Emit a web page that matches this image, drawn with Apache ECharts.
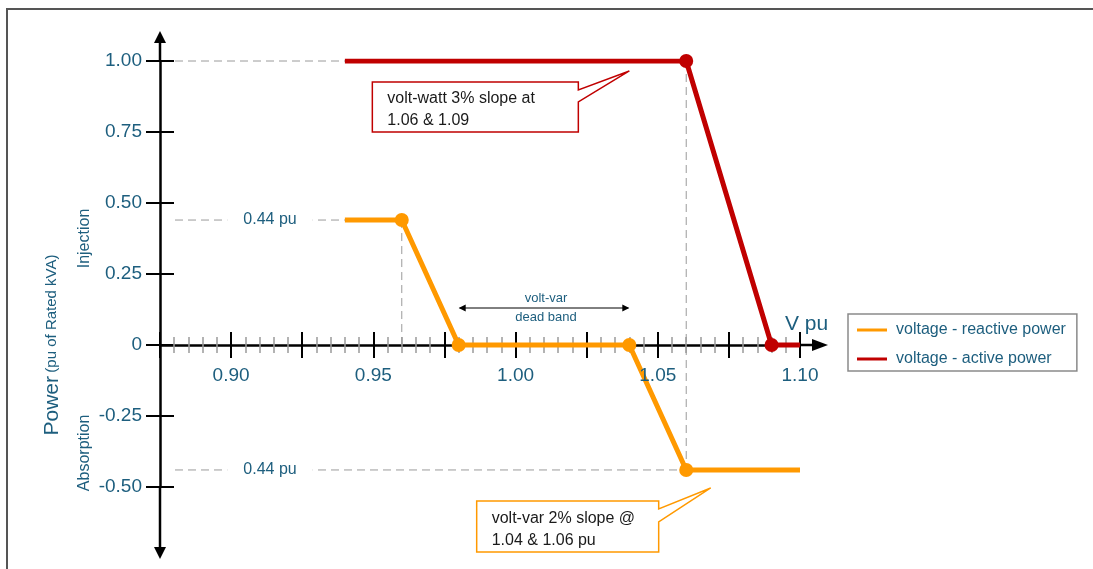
<!DOCTYPE html>
<html>
<head>
<meta charset="utf-8">
<title>Volt-var and volt-watt curves</title>
<script src="https://cdn.jsdelivr.net/npm/echarts@6/dist/echarts.min.js"></script>
<style>
  html, body { margin: 0; padding: 0; background: #ffffff; }
  #chart { width: 1093px; height: 569px; }
</style>
</head>
<body>
<div id="chart"></div>
<script>
// Curve break points (voltage in pu, power in pu of rated kVA)
const seriesNames = ['voltage - reactive power', 'voltage - active power'];
const reactiveVoltage = [0.94, 0.96, 0.98, 1.04, 1.06, 1.10];
const reactivePower = [0.44, 0.44, 0, 0, -0.44, -0.44];
const reactiveMarked = [false, true, true, true, true, false];
const activeVoltage = [0.94, 1.06, 1.09, 1.10];
const activePower = [1.0, 1.0, 0, 0];
const activeMarked = [false, true, true, false];

// Tick labels
const voltageLabels = ['0.90', '0.95', '1.00', '1.05', '1.10'];
const powerLabels = ['-0.50', '-0.25', '0', '0.25', '0.50', '0.75', '1.00'];

// Axis ranges
const vMin = 0.875, vMax = 1.10, vStep = 0.025;
const pMin = -0.5, pMax = 1.0, pStep = 0.25;

// Reference level shown beside the guide lines
const qLimit = 0.44;

const FONT = "'Liberation Sans', Arial, sans-serif";
const TEAL = '#1d5e7e';
const ORANGE = '#ff9900';
const RED = '#c00000';
const GUIDE = { stroke: '#9a9a9a', lineWidth: 1, lineDash: [8, 5] };

const chart = echarts.init(document.getElementById('chart'), null, { renderer: 'canvas' });

function powerLabel(v) {
  const hit = powerLabels.find(l => Math.abs(parseFloat(l) - v) < 1e-9);
  return hit === undefined ? '' : hit;
}

// Two copies of each axis: one draws ticks outward, the other inward, so ticks cross the line
function xAxisDef(inside, withLine) {
  return {
    type: 'value', min: vMin, max: vMax, interval: vStep, position: 'bottom',
    axisLine: { show: withLine, onZero: true, lineStyle: { color: '#000', width: 2.5 } },
    axisTick: { show: true, inside: inside, length: 13, lineStyle: { color: '#000', width: 2 } },
    minorTick: { show: true, splitNumber: 5, length: 8, lineStyle: { color: '#9a9a9a', width: 1.5 } },
    axisLabel: { show: false },
    splitLine: { show: false }
  };
}
function yAxisDef(inside, withLabels) {
  return {
    type: 'value', min: pMin, max: pMax, interval: pStep, position: 'left',
    axisLine: { show: withLabels, onZero: false, lineStyle: { color: '#000', width: 2.5 } },
    axisTick: { show: true, inside: inside, length: 14, lineStyle: { color: '#000', width: 2 } },
    axisLabel: { show: withLabels, formatter: powerLabel, margin: 18, color: TEAL, fontSize: 19, fontFamily: FONT },
    splitLine: { show: false }
  };
}

function curve(name, xs, ys, marked, color) {
  return {
    type: 'line', name: name, z: 5,
    data: xs.map((x, i) => ({ value: [x, ys[i]], symbol: marked[i] ? 'circle' : 'none' })),
    symbol: 'circle', symbolSize: 14,
    lineStyle: { color: color, width: 5 },
    itemStyle: { color: color },
    emphasis: { disabled: true }
  };
}

chart.setOption({
  animation: false,
  textStyle: { fontFamily: FONT },
  grid: { left: 160, top: 61, width: 640, height: 426, containLabel: false },
  xAxis: [xAxisDef(false, true), xAxisDef(true, false)],
  yAxis: [yAxisDef(false, true), yAxisDef(true, false)],
  legend: {
    orient: 'vertical', left: 848, top: 314,
    padding: [8, 11, 4, 9], itemGap: 13,
    itemWidth: 30, itemHeight: 3, icon: 'rect',
    borderColor: '#8a8a8a', borderWidth: 1.5,
    textStyle: { color: TEAL, fontSize: 16, fontFamily: FONT, padding: [0, 0, 0, 4] },
    data: seriesNames
  },
  series: [
    curve(seriesNames[0], reactiveVoltage, reactivePower, reactiveMarked, ORANGE),
    curve(seriesNames[1], activeVoltage, activePower, activeMarked, RED)
  ]
});

// Decorations placed through the grid's own scales
const px = (x, y) => chart.convertToPixel({ gridIndex: 0 }, [x, y]);
const origin = px(vMin, 0);
const axisX = origin[0], axisY = origin[1];
const xEnd = px(vMax, 0)[0];
const yTop = px(vMin, pMax)[1];
const yBottom = px(vMin, pMin)[1];
const guideStart = axisX + 15;

const g = [];
function line(x1, y1, x2, y2, style, z) {
  g.push({ type: 'line', z: z || 1, shape: { x1, y1, x2, y2 }, style: Object.assign({}, style) });
}
function poly(points, style, z) {
  g.push({ type: 'polygon', z: z || 3, shape: { points }, style });
}
function text(x, y, str, style, extra) {
  g.push(Object.assign({ type: 'text', z: 12, x, y, style: Object.assign({ text: str, fontFamily: FONT }, style) }, extra || {}));
}

// Frame
g.push({ type: 'rect', z: 0, shape: { x: 7, y: 9, width: 1200, height: 1000 }, style: { fill: 'none', stroke: '#555', lineWidth: 2 } });

// Voltage tick labels sit under the zero line
voltageLabels.forEach(l => {
  text(px(parseFloat(l), 0)[0], axisY + 31, l, { fill: TEAL, fontSize: 19, align: 'center', verticalAlign: 'middle' });
});

// Axis extensions with arrow heads
const AX = { stroke: '#000', lineWidth: 2.5 };
line(xEnd, axisY, xEnd + 14, axisY, AX, 3);
poly([[xEnd + 12, axisY - 6], [xEnd + 28, axisY], [xEnd + 12, axisY + 6]], { fill: '#000' });
line(axisX, yTop, axisX, yTop - 20, AX, 3);
poly([[axisX - 6, yTop - 18], [axisX, yTop - 30], [axisX + 6, yTop - 18]], { fill: '#000' });
line(axisX, yBottom, axisX, yBottom + 62, AX, 3);
poly([[axisX - 6, yBottom + 60], [axisX, yBottom + 72], [axisX + 6, yBottom + 60]], { fill: '#000' });

// Guide lines
const pTop = px(activeVoltage[0], activePower[0]);
line(guideStart, pTop[1], pTop[0], pTop[1], GUIDE);
const qUp = px(reactiveVoltage[0], qLimit);
line(guideStart, qUp[1], qUp[0], qUp[1], GUIDE);
const qUpKnee = px(reactiveVoltage[1], qLimit);
line(qUpKnee[0], qUpKnee[1], qUpKnee[0], axisY, GUIDE);
const qDownKnee = px(reactiveVoltage[4], -qLimit);
line(guideStart, qDownKnee[1], qDownKnee[0], qDownKnee[1], GUIDE);
const pKnee = px(activeVoltage[1], activePower[1]);
line(pKnee[0], pKnee[1], pKnee[0], qDownKnee[1], GUIDE);

const levelStyle = { fill: TEAL, fontSize: 16, align: 'center', verticalAlign: 'middle', backgroundColor: '#fff', padding: [2, 16] };
text(axisX + 110, qUp[1], qLimit.toFixed(2) + ' pu', levelStyle);
text(axisX + 110, qDownKnee[1], qLimit.toFixed(2) + ' pu', levelStyle);

// Dead band marker
const dbL = px(reactiveVoltage[2], 0)[0], dbR = px(reactiveVoltage[3], 0)[0];
const dbY = axisY - 37;
line(dbL + 1, dbY, dbR - 1, dbY, { stroke: '#000', lineWidth: 1 }, 3);
poly([[dbL, dbY], [dbL + 7, dbY - 3.5], [dbL + 7, dbY + 3.5]], { fill: '#000' });
poly([[dbR, dbY], [dbR - 7, dbY - 3.5], [dbR - 7, dbY + 3.5]], { fill: '#000' });
const dbMid = (dbL + dbR) / 2 + 2;
text(dbMid, dbY - 10, 'volt-var', { fill: TEAL, fontSize: 13, align: 'center', verticalAlign: 'middle' });
text(dbMid, dbY + 9, 'dead band', { fill: TEAL, fontSize: 13, align: 'center', verticalAlign: 'middle' });

// Axis captions
text(xEnd - 15, axisY - 21, 'V pu', { fill: TEAL, fontSize: 21, align: 'left', verticalAlign: 'middle' });
text(52, axisY, '{a|Power} {b|(pu of Rated kVA)}', {
  fill: TEAL, align: 'center', verticalAlign: 'middle',
  rich: { a: { fontSize: 21, fill: TEAL, fontFamily: FONT }, b: { fontSize: 15, fill: TEAL, fontFamily: FONT } }
}, { rotation: Math.PI / 2 });
text(85, px(vMin, 0.375)[1], 'Injection', { fill: TEAL, fontSize: 16, align: 'center', verticalAlign: 'middle' }, { rotation: Math.PI / 2 });
text(85, px(vMin, -0.38)[1], 'Absorption', { fill: TEAL, fontSize: 16, align: 'center', verticalAlign: 'middle' }, { rotation: Math.PI / 2 });

// Callouts: tip point, box offsets from the tip
function callout(tip, box, base, color, lines) {
  const [tx, ty] = tip;
  const L = tx + box[0], R = tx + box[1], T = ty + box[2], B = ty + box[3];
  poly([[L, T], [R, T], [R, ty + base[0]], [tx, ty], [R, ty + base[1]], [R, B], [L, B]],
    { fill: '#fff', stroke: color, lineWidth: 1.5 }, 10);
  text(L + 15, (T + B) / 2 + 3, lines.join('\n'), { fill: '#1a1a1a', fontSize: 16, lineHeight: 22, align: 'left', verticalAlign: 'middle' });
}
callout(px(1.04, 0.965), [-257, -51, 11, 61], [19, 31], RED, ['volt-watt 3% slope at', '1.06 & 1.09']);
callout(px(1.0686, -0.5035), [-234, -52, 13, 64], [21, 34], ORANGE, ['volt-var 2% slope @', '1.04 & 1.06 pu']);

chart.setOption({ graphic: g });
</script>
</body>
</html>
